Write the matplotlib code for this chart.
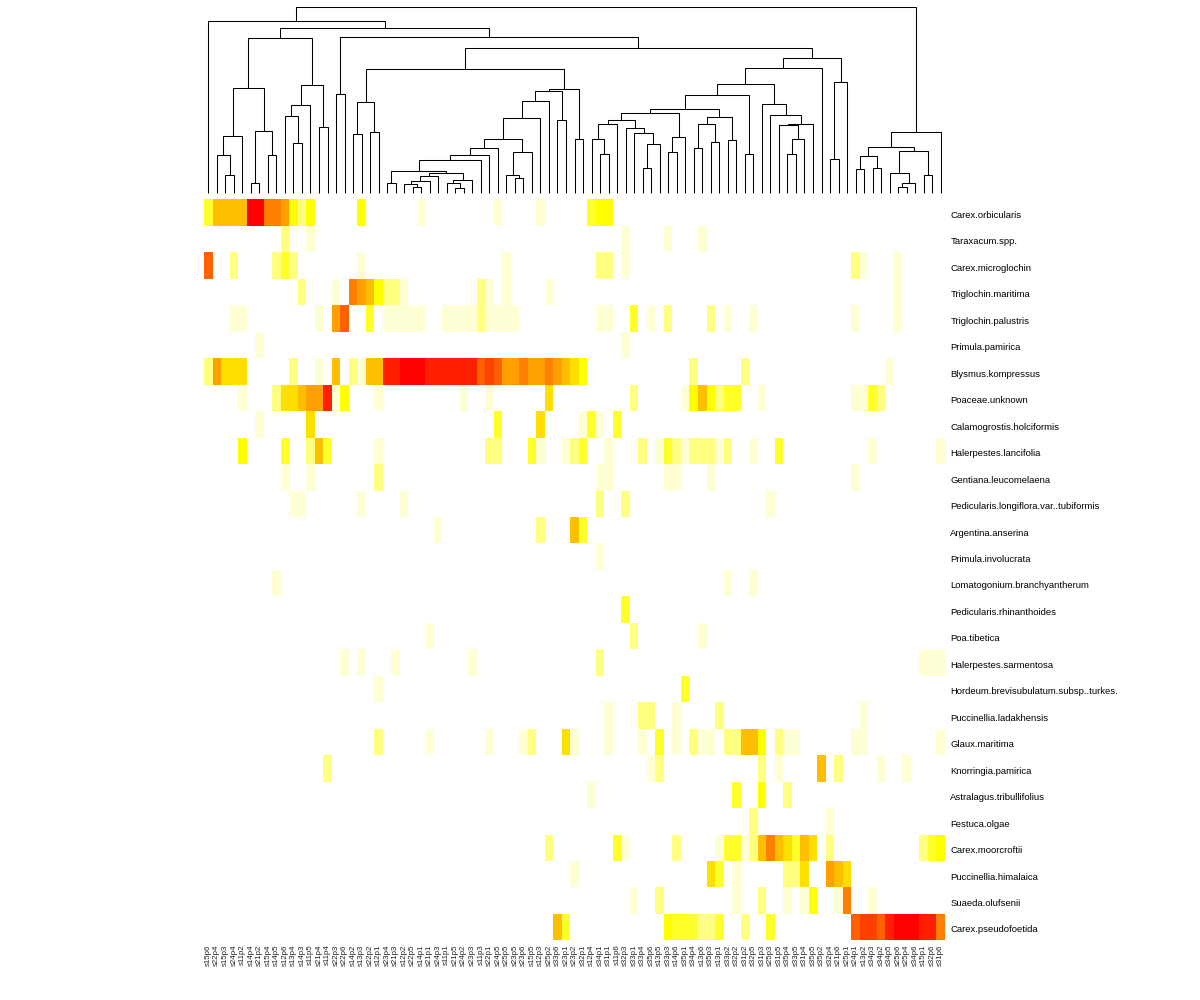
import numpy as np
from matplotlib import pyplot as plt
from matplotlib.colors import ListedColormap, BoundaryNorm
from matplotlib.transforms import ScaledTranslation

plt.rcParams['font.family'] = ['Liberation Sans', 'DejaVu Sans']

## Samples, bottom labels of the heatmap in dendrogram order
samples = [
    's15p6', 's22p4', 's15p3', 's24p4', 's11p2', 's14p4', 's21p2', 's15p4', 's14p5', 's12p6',
    's13p4', 's14p3', 's11p5', 's21p4', 's11p4', 's22p3', 's22p6', 's14p2', 's13p3', 's22p2',
    's12p1', 's23p4', 's21p3', 's12p2', 's22p5', 's14p1', 's21p1', 's24p3', 's11p1', 's21p5',
    's24p2', 's23p3', 's11p3', 's22p1', 's24p5', 's25p5', 's23p5', 's23p6', 's15p5', 's12p3',
    's25p2', 's33p6', 's23p1', 's23p2', 's32p1', 's12p4', 's34p1', 's31p1', 's11p6', 's32p3',
    's33p1', 's33p4', 's35p6', 's13p5', 's33p3', 's14p6', 's35p1', 's34p4', 's13p6', 's35p3',
    's13p1', 's33p2', 's32p2', 's31p2', 's32p5', 's31p3', 's25p3', 's31p5', 's35p4', 's33p5',
    's31p4', 's35p5', 's35p2', 's32p4', 's21p6', 's25p1', 's24p1', 's13p2', 's34p3', 's34p2',
    's34p5', 's25p6', 's25p4', 's34p6', 's15p1', 's32p6', 's31p6',
]

species = [
    'Carex.orbicularis', 'Taraxacum.spp.', 'Carex.microglochin', 'Triglochin.maritima',
    'Triglochin.palustris', 'Primula.pamirica', 'Blysmus.kompressus', 'Poaceae.unknown',
    'Calamogrostis.holciformis', 'Halerpestes.lancifolia', 'Gentiana.leucomelaena',
    'Pedicularis.longiflora.var..tubiformis', 'Argentina.anserina', 'Primula.involucrata',
    'Lomatogonium.branchyantherum', 'Pedicularis.rhinanthoides', 'Poa.tibetica',
    'Halerpestes.sarmentosa', 'Hordeum.brevisubulatum.subsp..turkes.', 'Puccinellia.ladakhensis',
    'Glaux.maritima', 'Knorringia.pamirica', 'Astralagus.tribullifolius', 'Festuca.olgae',
    'Carex.moorcroftii', 'Puccinellia.himalaica', 'Suaeda.olufsenii', 'Carex.pseudofoetida',
]

## Abundance class per sample column (0 = absent, left out), one dict per species
carex_orbicularis = {0: 3, 1: 6, 2: 6, 3: 6, 4: 6, 5: 12, 6: 12, 7: 8, 8: 8, 9: 7, 10: 4, 11: 2, 12: 4,
                     18: 4, 25: 1, 34: 1, 39: 1, 45: 3, 46: 4, 47: 4}
taraxacum = {9: 2, 12: 1, 49: 1, 54: 1, 58: 1}
carex_microglochin = {0: 9, 3: 2, 8: 2, 9: 3, 10: 2, 18: 1, 35: 1, 46: 2, 47: 2, 49: 1, 76: 2, 77: 1, 81: 1}
triglochin_maritima = {11: 2, 15: 1, 17: 8, 18: 7, 19: 6, 20: 4, 21: 2, 22: 2, 23: 1, 32: 2, 33: 1, 35: 1,
                       40: 1, 81: 1}
triglochin_palustris = {3: 1, 4: 1, 13: 1, 15: 7, 16: 9, 19: 3, 21: 1, 22: 1, 23: 1, 24: 1, 25: 1,
                        28: 1, 29: 1, 30: 1, 31: 1, 32: 2, 33: 1, 34: 1, 35: 1, 36: 1, 46: 1, 47: 1,
                        50: 3, 52: 1, 54: 2, 59: 2, 61: 1, 64: 1, 76: 1, 81: 1}
primula_pamirica = {6: 1, 49: 1}
blysmus = {0: 2, 1: 7, 2: 5, 3: 5, 4: 5, 10: 2, 13: 1, 15: 6, 17: 2, 18: 1, 19: 6, 20: 6, 21: 11, 22: 11,
           23: 12, 24: 12, 25: 12, 26: 11, 27: 11, 28: 11, 29: 11, 30: 11, 31: 11, 32: 9, 33: 10, 34: 9,
           35: 7, 36: 7, 37: 8, 38: 7, 39: 7, 40: 8, 41: 7, 42: 6, 43: 5, 44: 4, 57: 2, 63: 2, 80: 1}
poaceae = {4: 1, 8: 2, 9: 5, 10: 5, 11: 6, 12: 7, 13: 7, 14: 11, 15: 1, 16: 4, 20: 1, 30: 1, 33: 1, 40: 5,
           50: 2, 56: 1, 57: 4, 58: 6, 59: 4, 60: 2, 61: 3, 62: 3, 65: 1, 76: 1, 77: 1, 78: 3, 79: 2}
calamogrostis = {6: 1, 12: 5, 34: 3, 39: 5, 44: 1, 45: 3, 46: 1, 48: 3}
halerpestes_lancifolia = {4: 4, 9: 3, 12: 2, 13: 6, 14: 3, 20: 1, 33: 2, 34: 2, 38: 3, 39: 1, 42: 1, 43: 2,
                          44: 3, 47: 1, 51: 2, 53: 1, 54: 3, 55: 2, 56: 1, 57: 2, 58: 2, 59: 2, 60: 1,
                          61: 2, 64: 1, 67: 3, 78: 1, 86: 1}
gentiana = {9: 1, 12: 1, 20: 2, 46: 1, 47: 1, 54: 1, 55: 1, 59: 1, 76: 1}
pedicularis_longiflora = {10: 1, 11: 1, 18: 1, 23: 1, 46: 2, 49: 2, 66: 1}
argentina = {27: 1, 39: 2, 43: 6, 44: 3}
primula_involucrata = {46: 1}
lomatogonium = {8: 1, 61: 1, 64: 1}
pedicularis_rhinanthoides = {49: 3}
poa_tibetica = {26: 1, 50: 2, 58: 1}
halerpestes_sarmentosa = {16: 1, 18: 1, 22: 1, 31: 1, 46: 2, 84: 1, 85: 1, 86: 1}
hordeum = {20: 1, 56: 3}
puccinellia_ladakhensis = {47: 1, 51: 2, 52: 2, 55: 1, 60: 2, 77: 1}
glaux = {20: 2, 26: 1, 33: 1, 37: 1, 38: 2, 42: 5, 43: 1, 47: 1, 51: 1, 53: 3, 55: 1, 57: 2, 58: 1, 59: 1,
         61: 2, 62: 2, 63: 6, 64: 6, 65: 4, 67: 2, 68: 1, 69: 1, 76: 1, 77: 1, 86: 1}
knorringia = {14: 2, 52: 1, 53: 2, 65: 2, 67: 1, 72: 6, 74: 2, 79: 1, 82: 1}
astralagus = {45: 1, 62: 3, 65: 4, 68: 2}
festuca = {64: 2, 73: 1}
carex_moorcroftii = {40: 2, 48: 3, 49: 1, 55: 2, 60: 1, 61: 3, 62: 3, 63: 1, 64: 2, 65: 6, 66: 8, 67: 6,
                     68: 5, 69: 3, 70: 6, 71: 5, 73: 2, 84: 2, 85: 3, 86: 4}
puccinellia_himalaica = {43: 1, 59: 5, 60: 3, 62: 1, 68: 2, 69: 2, 70: 5, 73: 7, 74: 6, 75: 5}
suaeda = {50: 1, 53: 2, 62: 1, 65: 2, 68: 1, 70: 1, 71: 4, 74: 1, 75: 8, 78: 1}
carex_pseudofoetida = {41: 6, 42: 3, 54: 4, 55: 3, 56: 3, 57: 3, 58: 2, 59: 2, 60: 3, 63: 2, 66: 3, 76: 9,
                       77: 10, 78: 10, 79: 9, 80: 11, 81: 12, 82: 12, 83: 12, 84: 11, 85: 11, 86: 8}

rows = [carex_orbicularis, taraxacum, carex_microglochin, triglochin_maritima, triglochin_palustris,
        primula_pamirica, blysmus, poaceae, calamogrostis, halerpestes_lancifolia, gentiana,
        pedicularis_longiflora, argentina, primula_involucrata, lomatogonium, pedicularis_rhinanthoides,
        poa_tibetica, halerpestes_sarmentosa, hordeum, puccinellia_ladakhensis, glaux, knorringia,
        astralagus, festuca, carex_moorcroftii, puccinellia_himalaica, suaeda, carex_pseudofoetida]

## Dendrogram merges: ids below 100 are sample columns, merge i creates cluster 100 + i
merge_left = [2, 1, 101, 5, 7, 103, 102, 10, 9, 108, 13, 109, 106, 15, 17, 19, 114, 21, 24, 23,
              119, 120, 29, 28, 123, 121, 117, 126, 127, 128, 36, 35, 131, 129, 133, 134, 41, 135, 43, 137,
              116, 46, 45, 142, 51, 144, 50, 49, 143, 54, 149, 148, 57, 59, 152, 61, 154, 151, 63, 157,
              68, 160, 67, 162, 66, 65, 159, 166, 73, 168, 167, 140, 113, 112, 0, 76, 78, 175, 81, 178,
              80, 84, 180, 177, 183, 174]
merge_right = [3, 100, 4, 6, 8, 104, 105, 11, 107, 12, 14, 110, 111, 16, 18, 20, 115, 22, 25, 118,
               26, 27, 30, 122, 31, 124, 125, 32, 33, 34, 37, 130, 38, 132, 39, 40, 42, 136, 44, 138,
               139, 47, 141, 48, 52, 53, 145, 146, 147, 55, 56, 150, 58, 60, 153, 62, 155, 156, 64, 158,
               69, 70, 161, 71, 163, 164, 165, 72, 74, 75, 169, 170, 171, 172, 173, 77, 79, 176, 82, 83,
               179, 85, 181, 182, 86, 184]
merge_height = [17.3, 37.3, 56.3, 9.3, 37.3, 61.3, 104.3, 49.3, 76.3, 87.3,
                65.3, 107.3, 154.3, 98.3, 58.3, 60.3, 90.3, 9.3, 5.3, 8.3,
                11.3, 16.3, 4.3, 9.3, 12.3, 19.3, 21.3, 32.3, 37.3, 44.3,
                14.3, 17.3, 40.3, 53.3, 74.3, 91.3, 72.3, 101.3, 53.3, 103.3,
                123.3, 38.3, 53.3, 68.3, 24.3, 48.3, 59.3, 64.3, 72.3, 40.3,
                55.3, 79.3, 44.3, 50.3, 68.3, 52.3, 75.3, 83.3, 38.3, 97.3,
                38.3, 53.3, 67.3, 68.3, 77.3, 88.3, 108.3, 124.3, 33.3, 110.3,
                134.3, 144.3, 155.3, 164.3, 171.3, 23.3, 24.3, 36.3, 5.3, 9.3,
                19.3, 17.3, 41.3, 45.3, 60.3, 185.3]

# rev(heat.colors(12)) with white in front for the absent class
heat_colors = ['#FFFFFF', '#FFFFD5', '#FFFF80', '#FFFF2A', '#FFFF00', '#FFDF00', '#FFBF00',
               '#FF9F00', '#FF8000', '#FF6000', '#FF4000', '#FF2000', '#FF0000']

n_col = len(samples)
n_row = len(species)

data = np.zeros((n_row, n_col))
for i, row in enumerate(rows):
    for k, v in row.items():
        data[i, k] = v

W, H = 1200, 1000
fig = plt.figure(figsize=(W / 100, H / 100), dpi=100)

## Heatmap
ax = fig.add_axes([204 / W, 1 - 940.4 / H, 741 / W, 741 / H])
cmap = ListedColormap(heat_colors)
norm = BoundaryNorm(np.arange(len(heat_colors) + 1) - 0.5, cmap.N)
ax.pcolormesh(np.arange(n_col + 1), np.arange(n_row + 1), data, cmap=cmap, norm=norm,
              antialiased=False, linewidth=0)
ax.set_xlim(0, n_col)
ax.set_ylim(n_row, 0)
for s in ax.spines.values():
    s.set_visible(False)

ax.set_xticks(np.arange(n_col) + 0.5)
ax.set_xticklabels(samples, rotation=90, fontsize=5.7, color='#222222')
ax.set_yticks(np.arange(n_row) + 0.5)
ax.set_yticklabels(species, fontsize=6.8, color='black')
ax.yaxis.tick_right()
ax.tick_params(axis='x', length=0, pad=3)
ax.tick_params(axis='y', length=0, pad=3.8)
# labels sit a bit below the row centre
shift = ScaledTranslation(0, -1.3 / 72, fig.dpi_scale_trans)
for lbl in ax.get_yticklabels():
    lbl.set_transform(lbl.get_transform() + shift)

## Dendrogram
ax2 = fig.add_axes([204 / W, 1 - 192.7 / H, 741 / W, 185.3 / H])
pos = {k: k + 0.5 for k in range(n_col)}
height = {k: 0.0 for k in range(n_col)}
for i, (a, b, h) in enumerate(zip(merge_left, merge_right, merge_height)):
    ax2.plot([pos[a], pos[a], pos[b], pos[b]], [height[a], h, h, height[b]],
             color='black', lw=0.75, solid_joinstyle='miter', solid_capstyle='butt', clip_on=False)
    pos[100 + i] = (pos[a] + pos[b]) / 2
    height[100 + i] = h
ax2.set_xlim(0, n_col)
ax2.set_ylim(0, max(merge_height))
ax2.axis('off')

fig.savefig('out.png', dpi=100)
